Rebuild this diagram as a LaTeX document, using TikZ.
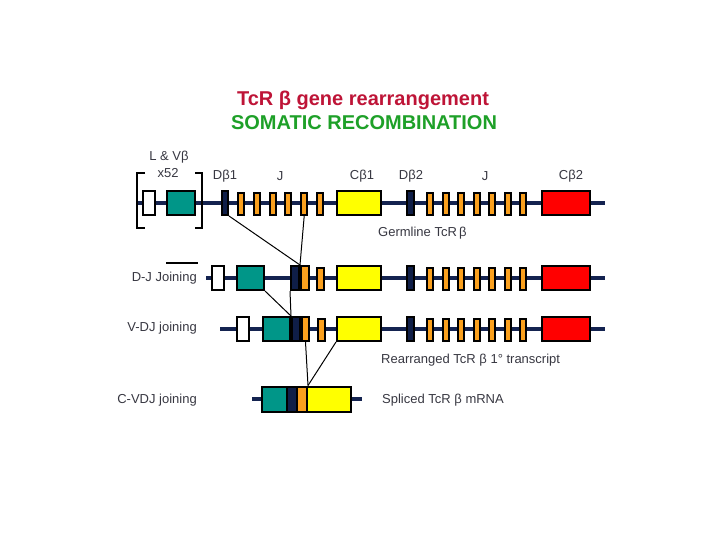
\documentclass[tikz,border=0pt]{standalone}
\usepackage{fontspec}
\setmainfont{Liberation Sans}
\definecolor{tealc}{RGB}{0,150,136}
\definecolor{navyc}{RGB}{15,30,72}
\definecolor{orangec}{RGB}{250,160,30}
\definecolor{yellowc}{RGB}{255,255,0}
\definecolor{redc}{RGB}{255,0,0}
\definecolor{chromc}{RGB}{20,35,80}
\definecolor{titlered}{RGB}{190,20,55}
\definecolor{titlegreen}{RGB}{30,160,40}
\definecolor{labelc}{RGB}{55,55,65}
\newcommand{\gseg}[5]{\node[segbox, fill=#2, minimum width=#3pt] (#1) at (#4,#5) {};}
\begin{document}
\begin{tikzpicture}[x=1pt,y=-1pt,
  segbox/.style={draw=black, line width=2pt, inner sep=0pt, minimum height=24pt},
  jbox/.style={segbox, fill=orangec, minimum width=6pt, minimum height=22pt},
  chrom/.style={draw=chromc, line width=3.5pt},
  conn/.style={draw=black, line width=1pt},
  lab/.style={text=labelc, font=\fontsize{13}{15}\selectfont, inner sep=0pt},
  ttl/.style={font=\fontsize{20}{22}\selectfont\bfseries, inner sep=0pt}]
\useasboundingbox (0,0) rectangle (720,540);

% titles
\node[ttl, text=titlered] (t1) at (363,100) {TcR β gene rearrangement};
\node[ttl, text=titlegreen] (t2) at (364,123) {SOMATIC RECOMBINATION};

% ---------- row 1 : germline ----------
\coordinate (r1a) at (137,203);
\coordinate (r1b) at (605,203);
\draw[chrom] (r1a) -- (r1b);
\gseg{w1}{white}{12}{149}{203}
\gseg{v1}{tealc}{28}{181}{203}
\gseg{d1}{navyc}{6}{225}{203}
\foreach \i/\xx in {a/241,b/256.8,c/272.6,d/288.4,e/304.2,f/320}{
  \node[jbox] (j1\i) at (\xx,204) {};}
\gseg{c1}{yellowc}{44}{359}{203}
\gseg{dd1}{navyc}{7}{410.5}{203}
\foreach \i/\xx in {a/430,b/445.5,c/461,d/476.5,e/492,f/507.5,g/523}{
  \node[jbox] (jj1\i) at (\xx,204) {};}
\gseg{cc1}{redc}{48}{566}{203}
% bracket
\coordinate (bl1) at (145,173);
\coordinate (bl2) at (137,173);
\coordinate (bl3) at (137,228);
\coordinate (bl4) at (145,228);
\coordinate (br1) at (195,173);
\coordinate (br2) at (202,173);
\coordinate (br3) at (202,228);
\coordinate (br4) at (195,228);
\draw[black, line width=1.4pt] (bl1) -- (bl2) -- (bl3) -- (bl4);
\draw[black, line width=1.4pt] (br1) -- (br2) -- (br3) -- (br4);
% labels row 1
\node[lab] (lv) at (169,157) {L \& Vβ};
\node[lab] (x52) at (168,173) {x52};
\node[lab] (ld1) at (225,176) {Dβ1};
\node[lab] (lj1) at (280,176) {J};
\node[lab] (lc1) at (362,176) {Cβ1};
\node[lab] (ld2) at (411,176) {Dβ2};
\node[lab] (lj2) at (485,176) {J};
\node[lab] (lc2) at (571,176) {Cβ2};
\node[lab, anchor=west] (germ) at (378,233) {Germline TcR\,β};

% ---------- row 2 : D-J joining ----------
\coordinate (r2a) at (206,278);
\coordinate (r2b) at (605,278);
\draw[chrom] (r2a) -- (r2b);
\gseg{w2}{white}{12}{218}{278}
\gseg{v2}{tealc}{27}{250.5}{278}
\gseg{d2}{navyc}{8}{295}{278}
\gseg{dj2}{orangec}{8}{305}{278}
\node[jbox, minimum width=7pt] (j2) at (320,279) {};
\gseg{c2}{yellowc}{44}{359}{278}
\gseg{dd2}{navyc}{7}{410.5}{278}
\foreach \i/\xx in {a/430,b/445.5,c/461,d/476.5,e/492,f/507.5,g/523}{
  \node[jbox] (jj2\i) at (\xx,279) {};}
\gseg{cc2}{redc}{48}{566}{278}
\node[lab, anchor=east] (ldj) at (197,278) {D-J Joining};
\coordinate (ov1) at (166,263);
\coordinate (ov2) at (198,263);
\draw[black, line width=1.2pt] (ov1) -- (ov2);

% ---------- row 3 : V-DJ joining ----------
\coordinate (r3a) at (220,329);
\coordinate (r3b) at (605,329);
\draw[chrom] (r3a) -- (r3b);
\gseg{w3}{white}{12}{243}{329}
\gseg{v3}{tealc}{27}{276.5}{329}
\gseg{d3}{navyc}{8}{296}{329}
\gseg{dj3}{orangec}{7}{305.5}{329}
\node[jbox, minimum width=7pt] (j3) at (321.5,330) {};
\gseg{c3}{yellowc}{44}{359}{329}
\gseg{dd3}{navyc}{7}{410.5}{329}
\foreach \i/\xx in {a/430,b/445.5,c/461,d/476.5,e/492,f/507.5,g/523}{
  \node[jbox] (jj3\i) at (\xx,330) {};}
\gseg{cc3}{redc}{48}{566}{329}
\node[lab, anchor=east] (lvdj) at (197,328) {V-DJ joining};
\node[lab, anchor=west] (ltr) at (381,360) {Rearranged TcR β 1° transcript};

% ---------- row 4 : C-VDJ joining ----------
\coordinate (r4a) at (252,399);
\coordinate (r4b) at (362,399);
\draw[chrom] (r4a) -- (r4b);
\node[segbox, fill=tealc, minimum width=25pt, minimum height=25pt] (v4) at (274.5,399) {};
\node[segbox, fill=navyc, minimum width=10pt, minimum height=25pt] (d4) at (292,399) {};
\node[segbox, fill=orangec, minimum width=10pt, minimum height=25pt] (j4) at (302,399) {};
\node[segbox, fill=yellowc, minimum width=44pt, minimum height=25pt] (c4) at (329,399) {};
\node[lab, anchor=east] (lcvdj) at (197,400) {C-VDJ joining};
\node[lab, anchor=west] (lsp) at (382,400) {Spliced TcR β mRNA};

% ---------- connectors ----------
\draw[conn] (d1.south east) -- (dj2.north west);
\draw[conn] (j1e.south) -- (dj2.north west);
\draw[conn] (v2.south east) -- (v3.north east);
\draw[conn] (d2.south west) -- (v3.north east);
\draw[conn] (dj3.south) -- (j4.north east);
\draw[conn] (c3.south west) -- (j4.north east);
\end{tikzpicture}
\end{document}
